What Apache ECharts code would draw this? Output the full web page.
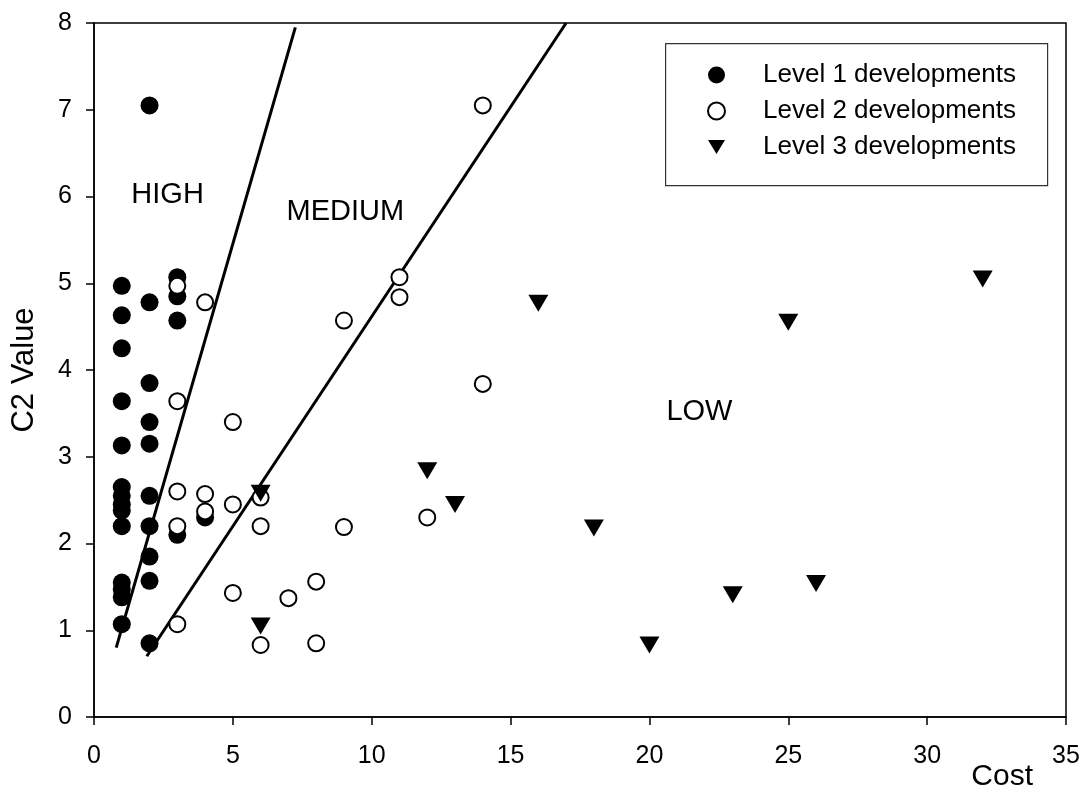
<!DOCTYPE html>
<html><head><meta charset="utf-8">
<script src="https://cdn.jsdelivr.net/npm/echarts@6/dist/echarts.min.js"></script>
<style>html,body{margin:0;padding:0;background:#fff}#c{width:1085px;height:796px}</style>
</head><body><div id="c"></div>
<script>
// Level 1 developments (filled circles) [cost, C2 value]
const level1 = [
  [1,4.97],[1,4.63],[1,4.25],[1,3.64],[1,3.13],[1,2.65],[1,2.55],[1,2.45],[1,2.38],[1,2.2],
  [1,1.55],[1,1.47],[1,1.38],[1,1.07],
  [2,7.05],[2,4.78],[2,3.85],[2,3.4],[2,3.15],[2,2.55],[2,2.2],[2,1.85],[2,1.57],[2,0.85],
  [3,5.07],[3,4.85],[3,4.57],[3,2.1],[4,2.3]
];
// Level 2 developments (open circles)
const level2 = [
  [3,4.97],[3,3.64],[3,2.6],[3,2.2],[3,1.07],
  [4,4.78],[4,2.57],[4,2.37],
  [5,3.4],[5,2.45],[5,1.43],
  [6,2.53],[6,2.2],[6,0.83],
  [7,1.37],[8,1.56],[8,0.85],
  [9,4.57],[9,2.19],[11,5.07],[11,4.84],[12,2.3],[14,7.05],[14,3.84]
];
// Level 3 developments (down triangles)
const level3 = [
  [6,2.58],[6,1.05],[12,2.84],[13,2.45],[16,4.77],[18,2.18],[20,0.83],
  [23,1.41],[25,4.55],[26,1.54],[32,5.05]
];
// Boundary lines
const lineHigh = [[0.8,0.8],[7.25,7.95]];
const lineMedium = [[1.9,0.7],[17.0,8.0]];
// Region annotations [text, cost, C2 value]
const regionLabels = [["HIGH",2.65,6.02],["MEDIUM",9.05,5.82],["LOW",21.8,3.52]];
const seriesNames = ['Level 1 developments','Level 2 developments','Level 3 developments'];
const xTicks = {min:0, max:35, interval:5};
const yTicks = {min:0, max:8, interval:1};

const tri = 'path://M0,0 L12,0 L6,10 Z';
const font = 'Liberation Sans, Arial, sans-serif';
const chart = echarts.init(document.getElementById('c'));
chart.setOption({
  animation:false,
  backgroundColor:'#fff',
  grid:{left:94,right:19,top:23,bottom:79,show:true,borderColor:'#000',borderWidth:1.5,backgroundColor:'transparent'},
  graphic:[{type:'rect',left:665,top:43,shape:{width:382,height:142},
    style:{fill:'#fff',stroke:'#333',lineWidth:1.2},z:0}],
  xAxis:{type:'value',min:xTicks.min,max:xTicks.max,interval:xTicks.interval,
    axisLine:{show:true,onZero:false,lineStyle:{color:'#000',width:1.5}},
    axisTick:{show:true,length:8,lineStyle:{color:'#000',width:1.5}},
    axisLabel:{color:'#000',fontSize:25,fontFamily:font,margin:27},
    splitLine:{show:false},
    name:'Cost',nameLocation:'end',nameGap:0,
    nameTextStyle:{color:'#000',fontSize:30,fontFamily:font,align:'right',verticalAlign:'top',padding:[45,33,0,0]}},
  yAxis:{type:'value',min:yTicks.min,max:yTicks.max,interval:yTicks.interval,
    axisLine:{show:true,onZero:false,lineStyle:{color:'#000',width:1.5}},
    axisTick:{show:true,length:8,lineStyle:{color:'#000',width:1.5}},
    axisLabel:{color:'#000',fontSize:25,fontFamily:font,margin:22},
    splitLine:{show:false},
    name:'C2 Value',nameLocation:'middle',nameGap:54,
    nameTextStyle:{color:'#000',fontSize:31,fontFamily:font}},
  legend:{
    orient:'vertical',left:707,top:62,
    padding:0,itemGap:10,itemWidth:17,itemHeight:17,
    textStyle:{color:'#000',fontSize:26,fontFamily:font,lineHeight:26,padding:[0,0,0,33]},
    data:seriesNames
  },
  series:[
    {type:'line',data:lineHigh,symbol:'none',lineStyle:{color:'#000',width:3},silent:true,z:1},
    {type:'line',data:lineMedium,symbol:'none',lineStyle:{color:'#000',width:3},silent:true,z:1},
    {name:seriesNames[0],type:'scatter',data:level1,symbol:'circle',symbolSize:18,
      itemStyle:{color:'#000',opacity:1},z:3},
    {name:seriesNames[1],type:'scatter',data:level2,symbol:'circle',symbolSize:16,
      itemStyle:{color:'#fff',borderColor:'#000',borderWidth:2,opacity:1},z:4},
    {name:seriesNames[2],type:'scatter',data:level3,symbol:tri,symbolSize:[20,17],
      itemStyle:{color:'#000',opacity:1},z:5},
    {type:'scatter',data:regionLabels.map(d=>({value:[d[1],d[2]],name:d[0]})),symbolSize:0,silent:true,
      itemStyle:{opacity:1},
      label:{show:true,position:'inside',formatter:p=>p.name,color:'#000',opacity:1,fontSize:29,fontFamily:font},z:6}
  ]
});
</script></body></html>
